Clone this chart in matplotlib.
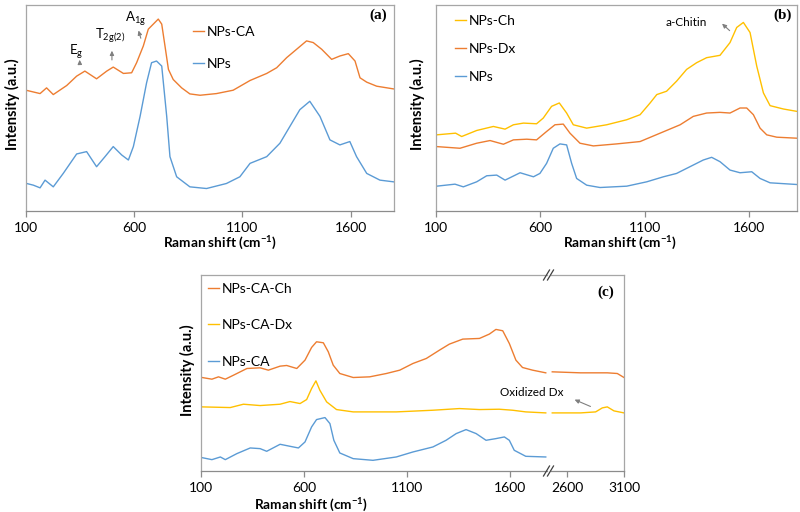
import matplotlib
matplotlib.use("Agg")
import matplotlib.pyplot as plt
from matplotlib.lines import Line2D

plt.rcParams['font.family'] = ['Lato', 'DejaVu Sans']
plt.rcParams['mathtext.fontset'] = 'custom'
plt.rcParams['mathtext.rm'] = 'Lato'
plt.rcParams['mathtext.it'] = 'Lato'
plt.rcParams['mathtext.bf'] = 'Lato:bold'

ORANGE = '#ED7D31'
BLUE = '#5B9BD5'
YELLOW = '#FFC000'
SPINE = '#a6a6a6'

# ---------------- data (Raman shift, cm-1 ; intensity, a.u.) ----------------
# panel (a)
a_ca_x = [100, 165, 195, 226, 288, 334, 372, 426, 473, 503, 550, 588, 611, 642, 665, 688, 711, 727, 742, 758,
          780, 819, 857, 904, 980, 1057, 1135, 1212, 1258, 1304, 1350, 1396, 1427, 1466, 1512, 1550, 1589, 1620,
          1643, 1674, 1720, 1797]
a_ca_y = [368, 358, 375, 355, 382, 410, 425, 402, 425, 437, 418, 420, 450, 500, 550, 565, 580, 565, 500, 430,
          400, 375, 357, 353, 358, 368, 397, 418, 435, 465, 490, 515, 510, 490, 460, 470, 477, 455, 405, 392, 380, 372]
a_np_x = [103, 134, 165, 188, 226, 272, 334, 380, 426, 465, 503, 542, 573, 596, 627, 657, 680, 703, 727, 750,
          765, 796, 857, 934, 1026, 1088, 1135, 1212, 1273, 1319, 1365, 1411, 1458, 1504, 1550, 1596, 1627, 1674,
          1735, 1797]
a_np_y = [90, 85, 77, 100, 80, 120, 178, 185, 140, 170, 200, 175, 160, 200, 290, 390, 450, 455, 440, 290,
          170, 110, 80, 75, 90, 110, 150, 170, 210, 260, 310, 335, 290, 220, 205, 215, 170, 120, 100, 95]

# panel (b)
b_ch_x = [103, 194, 223, 295, 375, 431, 471, 519, 582, 614, 654, 691, 726, 758, 822, 918, 1014, 1078, 1126, 1158,
          1205, 1253, 1301, 1349, 1397, 1461, 1509, 1541, 1573, 1605, 1637, 1669, 1701, 1765, 1829]
b_ch_y = [235, 240, 230, 248, 260, 252, 265, 270, 268, 285, 320, 330, 300, 265, 255, 265, 280, 295, 330, 355,
          365, 395, 430, 450, 465, 472, 510, 555, 570, 540, 440, 360, 322, 312, 305]
b_dx_x = [103, 215, 295, 359, 423, 471, 535, 582, 630, 670, 710, 742, 790, 854, 966, 1078, 1174, 1270, 1333, 1397,
          1461, 1509, 1557, 1589, 1621, 1653, 1685, 1733, 1829]
b_dx_y = [200, 195, 210, 218, 207, 220, 222, 220, 245, 265, 267, 240, 210, 202, 208, 215, 240, 265, 290, 300,
          302, 300, 315, 315, 295, 255, 235, 228, 225]
b_np_x = [103, 191, 231, 295, 343, 391, 431, 503, 567, 598, 630, 662, 694, 726, 750, 774, 822, 886, 1014, 1110,
          1190, 1253, 1317, 1381, 1421, 1461, 1509, 1557, 1613, 1653, 1701, 1829]
b_np_y = [82, 88, 80, 95, 113, 115, 100, 122, 110, 120, 150, 195, 208, 205, 150, 105, 85, 78, 82, 95,
          110, 120, 140, 160, 168, 155, 130, 122, 125, 105, 92, 87]

# panel (c) low-wavenumber segment
c_ch_x = [105, 153, 185, 218, 258, 323, 387, 427, 484, 516, 565, 605, 637, 661, 694, 718, 742, 774, 839, 919,
          1000, 1065, 1129, 1194, 1258, 1306, 1371, 1452, 1500, 1532, 1565, 1597, 1629, 1661, 1710, 1774]
c_ch_y = [288, 283, 290, 283, 295, 315, 317, 310, 322, 324, 315, 340, 378, 395, 392, 365, 325, 300, 288, 290,
          300, 310, 330, 345, 370, 388, 403, 405, 418, 432, 428, 390, 340, 318, 310, 302]
c_dx_x = [105, 242, 306, 387, 484, 532, 581, 613, 637, 658, 677, 710, 758, 839, 1048, 1226, 1355, 1452, 1548,
          1613, 1677, 1774]
c_dx_y = [200, 198, 208, 204, 208, 216, 210, 222, 255, 278, 250, 215, 192, 185, 185, 190, 195, 192, 193,
          190, 185, 182]
c_ca_x = [105, 153, 194, 218, 274, 339, 387, 419, 484, 532, 573, 605, 637, 661, 702, 726, 745, 774, 839, 935,
          1048, 1129, 1226, 1290, 1339, 1387, 1436, 1484, 1532, 1573, 1597, 1621, 1677, 1774]
c_ca_y = [48, 42, 50, 42, 60, 77, 75, 67, 88, 82, 77, 95, 140, 162, 168, 150, 100, 62, 45, 40,
          50, 65, 80, 100, 120, 132, 120, 100, 105, 110, 100, 70, 52, 50]
# panel (c) high-wavenumber segment
c_ch_x2 = [2468, 2718, 2953, 3041, 3100]
c_ch_y2 = [305, 302, 302, 300, 288]
c_dx_x2 = [2468, 2718, 2850, 2909, 2953, 3012, 3100]
c_dx_y2 = [182, 182, 185, 197, 200, 188, 182]

ticks_low = [100, 600, 1100, 1600]
ticks_high = [2600, 3100]

# ---------------- figure ----------------
W, H = 800, 512
fig = plt.figure(figsize=(8, 5.12), dpi=100)


def ax_px(l, t, r, b):
    return fig.add_axes([l / W, 1 - b / H, (r - l) / W, (b - t) / H])


def style(ax, ticks, xlim, ylim, hide_left=False, hide_right=False):
    ax.set_xlim(*xlim)
    ax.set_ylim(*ylim)
    ax.set_xticks(ticks)
    ax.set_xticklabels([str(t) for t in ticks])
    ax.set_yticks([])
    for s in ax.spines.values():
        s.set_color(SPINE)
        s.set_linewidth(0.9)
    ax.spines['bottom'].set_color('#8c8c8c')
    if hide_left:
        ax.spines['left'].set_visible(False)
    if hide_right:
        ax.spines['right'].set_visible(False)
    ax.tick_params(axis='x', direction='out', length=4, width=0.9, color='#8c8c8c',
                   labelsize=10, pad=4, labelcolor='black')


def fig_label(x, y, s, **kw):
    fig.text(x / W, 1 - y / H, s, **kw)


XLAB = r'Raman shift (cm$^{\mathbf{-1}}$)'
lw = 1.0
leg_kw = dict(frameon=False, handlelength=0.8, handletextpad=0.2, borderpad=0, borderaxespad=0,
              bbox_transform=fig.transFigure, loc='upper left')

# ---- panel (a)
axa = ax_px(26, 5, 394, 211)
axa.plot(a_ca_x, a_ca_y, color=ORANGE, lw=lw, label='NPs-CA')
axa.plot(a_np_x, a_np_y, color=BLUE, lw=lw, label='NPs')
style(axa, ticks_low, (100, 1800), (8, 622))
axa.legend(bbox_to_anchor=(193 / W, 1 - 26 / H), fontsize=10, labelspacing=1.45, **leg_kw)
axa.text(0.98, 0.95, '(a)', transform=axa.transAxes, ha='right', va='center',
         fontfamily='Liberation Serif', fontweight='bold', fontsize=11)
ann = dict(arrowstyle='-|>,head_length=0.25,head_width=0.12', color='#7f7f7f', lw=0.8)
axa.annotate('', xy=(347, 467), xytext=(349, 440), arrowprops=ann)
axa.annotate('', xy=(497, 494), xytext=(497, 450), arrowprops=ann)
axa.annotate('', xy=(616, 554), xytext=(634, 515), arrowprops=ann)
axa.text(330, 482, r'E$_{\rm g}$', ha='center', va='center', fontsize=9.5)
axa.text(488, 532, r'T$_{\rm 2g(2)}$', ha='center', va='center', fontsize=9.5)
axa.text(608, 580, r'A$_{\rm 1g}$', ha='center', va='center', fontsize=9.5)
fig_label(220, 243, XLAB, ha='center', va='center', fontsize=9.8, fontweight='bold')
fig_label(12, 104, 'Intensity (a.u.)', ha='center', va='center', rotation=90, fontsize=10.5,
          fontweight='bold')

# ---- panel (b)
axb = ax_px(436, 5, 797, 211)
axb.plot(b_ch_x, b_ch_y, color=YELLOW, lw=lw, label='NPs-Ch')
axb.plot(b_dx_x, b_dx_y, color=ORANGE, lw=lw, label='NPs-Dx')
axb.plot(b_np_x, b_np_y, color=BLUE, lw=lw, label='NPs')
style(axb, ticks_low, (100, 1830), (8, 622))
axb.legend(bbox_to_anchor=(455 / W, 1 - 15 / H), fontsize=10, labelspacing=1.15, **leg_kw)
axb.text(0.985, 0.95, '(b)', transform=axb.transAxes, ha='right', va='center',
         fontfamily='Liberation Serif', fontweight='bold', fontsize=11)
axb.annotate('', xy=(1461, 572), xytext=(1517, 540), arrowprops=ann)
axb.text(1300, 571, 'a-Chitin', ha='center', va='center', fontsize=8.5)
fig_label(620, 243, XLAB, ha='center', va='center', fontsize=9.8, fontweight='bold')
fig_label(417, 104, 'Intensity (a.u.)', ha='center', va='center', rotation=90, fontsize=10.5,
          fontweight='bold')

# ---- panel (c)
axc1 = ax_px(201, 275, 547, 471)
axc2 = ax_px(551, 275, 624, 471)
axc1.plot(c_ch_x, c_ch_y, color=ORANGE, lw=lw, label='NPs-CA-Ch')
axc1.plot(c_dx_x, c_dx_y, color=YELLOW, lw=lw, label='NPs-CA-Dx')
axc1.plot(c_ca_x, c_ca_y, color=BLUE, lw=lw, label='NPs-CA')
axc2.plot(c_ch_x2, c_ch_y2, color=ORANGE, lw=lw)
axc2.plot(c_dx_x2, c_dx_y2, color=YELLOW, lw=lw)
style(axc1, ticks_low, (100, 1780), (8, 595), hide_right=True)
style(axc2, ticks_high, (2457, 3100), (8, 595), hide_left=True)
axc1.legend(bbox_to_anchor=(208 / W, 1 - 283 / H), fontsize=10, labelspacing=1.75, **leg_kw)
axc2.text(0.75, 0.91, '(c)', transform=axc2.transAxes, ha='center', va='center',
          fontfamily='Liberation Serif', fontweight='bold', fontsize=11)
axc2.annotate('', xy=(2642, 225), xytext=(2827, 198), arrowprops=ann)
fig_label(532, 393, 'Oxidized Dx', ha='center', va='center', fontsize=8.5)
fig_label(311, 505, XLAB, ha='center', va='center', fontsize=9.8, fontweight='bold')
fig_label(187, 370, 'Intensity (a.u.)', ha='center', va='center', rotation=90, fontsize=10.5,
          fontweight='bold')

# break marks
for yb in (275, 471):
    for dx in (-2.5, 1.5):
        x0, x1 = 546 + dx, 552 + dx
        fig.add_artist(Line2D([x0 / W, x1 / W], [1 - (yb + 5) / H, 1 - (yb - 5) / H],
                              color='#404040', lw=0.9, transform=fig.transFigure))

fig.savefig('out.png', dpi=100)
